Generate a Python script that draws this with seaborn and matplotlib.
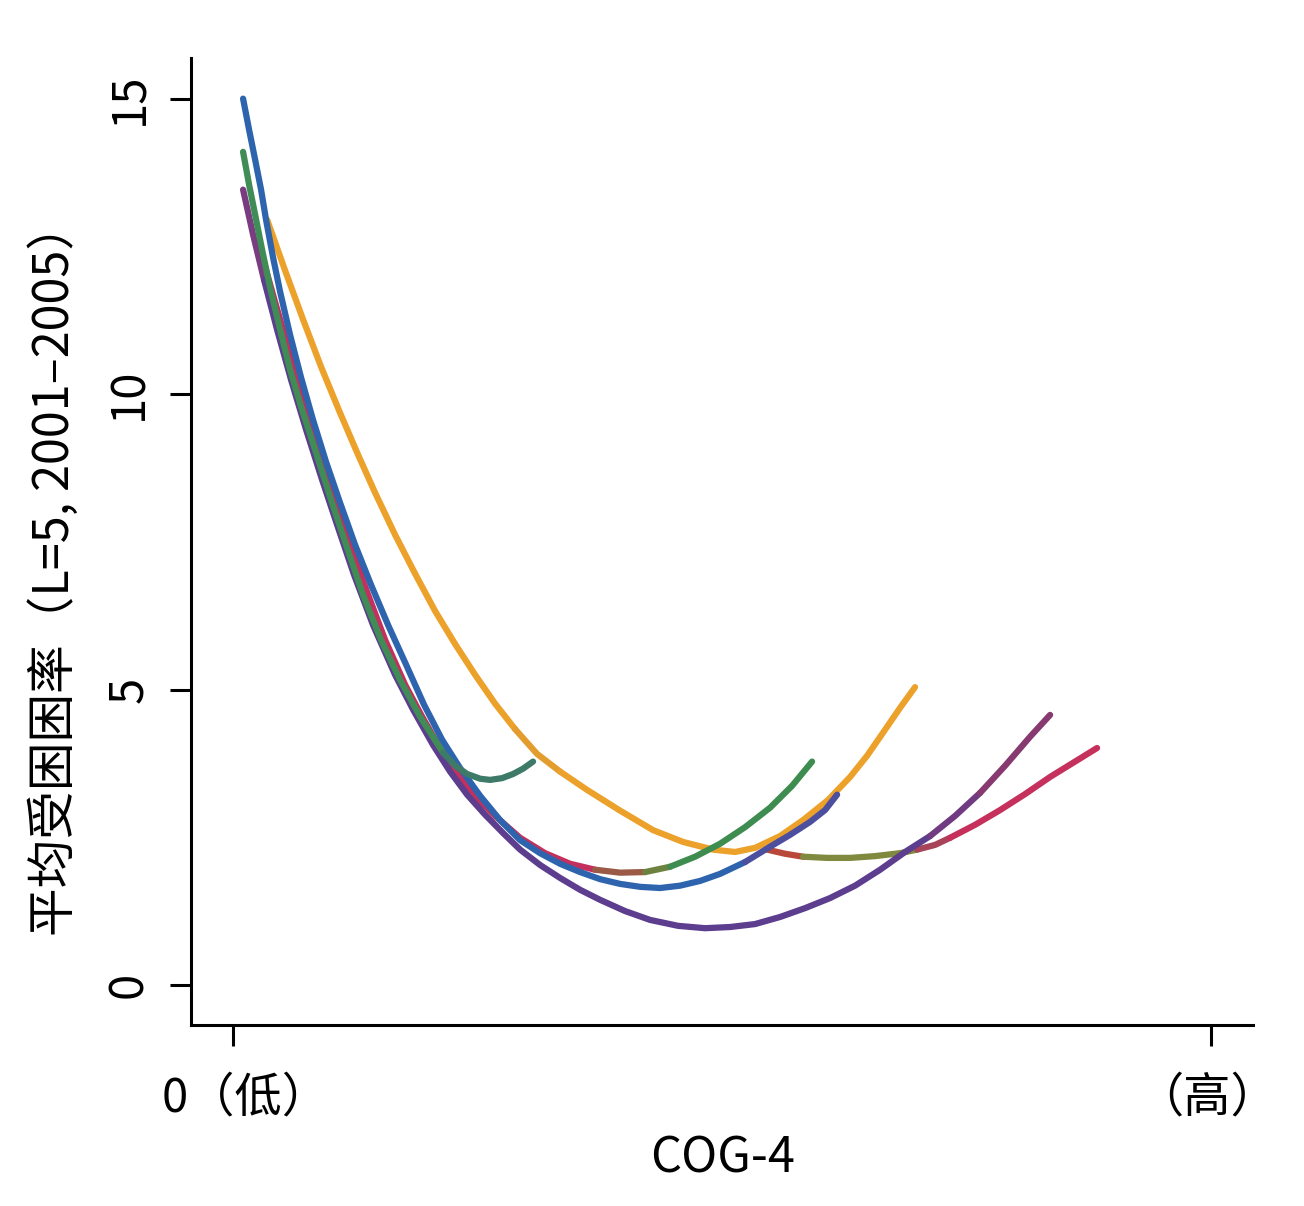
import numpy as np
import pandas as pd
import matplotlib.pyplot as plt
import matplotlib.transforms as mtrans
import seaborn as sns

# 各曲线的读数 (x: COG-4 位置 0~1, y: 平均受困率)
blue_x = [0.0102, 0.0164, 0.0225, 0.0286, 0.0337, 0.0409, 0.0481, 0.0583, 0.0695, 0.0818,
          0.0951, 0.1094, 0.1247, 0.1411, 0.1585, 0.1769, 0.1953, 0.2137, 0.2321, 0.2526,
          0.2730, 0.2935, 0.3139, 0.3344, 0.3548, 0.3753, 0.3957, 0.4162, 0.4366, 0.4571,
          0.4775, 0.4980, 0.5235, 0.5491, 0.5695, 0.5900, 0.6053, 0.6176]
blue_y = [15.00, 14.47, 13.97, 13.46, 12.95, 12.31, 11.73, 11.00, 10.28, 9.56,
          8.85, 8.16, 7.45, 6.77, 6.09, 5.42, 4.74, 4.15, 3.67, 3.20,
          2.79, 2.45, 2.23, 2.05, 1.91, 1.79, 1.71, 1.66, 1.64, 1.68,
          1.76, 1.88, 2.08, 2.34, 2.54, 2.76, 2.96, 3.22]

purple_x = [0.0102, 0.0204, 0.0317, 0.0450, 0.0593, 0.0746, 0.0910, 0.1063, 0.1237, 0.1431,
            0.1656, 0.1840, 0.2045, 0.2219, 0.2393, 0.2577, 0.2761, 0.2935, 0.3139, 0.3344,
            0.3548, 0.3753, 0.4008, 0.4264, 0.4550, 0.4826, 0.5082, 0.5337, 0.5593, 0.5849,
            0.6104, 0.6360, 0.6616, 0.6871, 0.7127, 0.7382, 0.7638, 0.7894, 0.8149, 0.8354]
purple_y = [13.46, 12.70, 11.93, 11.09, 10.24, 9.40, 8.55, 7.79, 6.94, 6.09,
            5.25, 4.66, 4.06, 3.61, 3.22, 2.88, 2.57, 2.29, 2.03, 1.81,
            1.61, 1.44, 1.25, 1.10, 1.00, 0.96, 0.98, 1.03, 1.15, 1.30,
            1.47, 1.68, 1.95, 2.25, 2.52, 2.86, 3.25, 3.71, 4.20, 4.57]

orange_x = [0.0348, 0.0532, 0.0716, 0.0900, 0.1084, 0.1268, 0.1452, 0.1656, 0.1861, 0.2065,
            0.2270, 0.2474, 0.2679, 0.2883, 0.3108, 0.3344, 0.3620, 0.3957, 0.4294, 0.4601,
            0.4908, 0.5133, 0.5337, 0.5593, 0.5828, 0.6084, 0.6309, 0.6483, 0.6646, 0.6820,
            0.6973]
orange_y = [12.95, 12.09, 11.26, 10.46, 9.72, 9.01, 8.33, 7.62, 6.96, 6.33,
            5.77, 5.25, 4.76, 4.33, 3.91, 3.61, 3.30, 2.95, 2.62, 2.42,
            2.29, 2.25, 2.32, 2.52, 2.79, 3.13, 3.52, 3.88, 4.27, 4.69,
            5.04]

green_x = [0.0102, 0.0164, 0.0225, 0.0297, 0.0378, 0.0481, 0.0583, 0.0706, 0.0838, 0.0992,
           0.1155, 0.1329, 0.1513, 0.1708, 0.1912, 0.2147, 0.2270, 0.2393, 0.2526, 0.2628,
           0.2751, 0.2863, 0.2965, 0.3067]
green_y = [14.10, 13.54, 13.04, 12.44, 11.80, 11.09, 10.41, 9.73, 9.06, 8.26,
           7.45, 6.60, 5.84, 5.16, 4.54, 3.93, 3.71, 3.57, 3.49, 3.47,
           3.50, 3.57, 3.66, 3.78]

red_x = [0.0256, 0.0337, 0.0429, 0.0532, 0.0634, 0.0757, 0.0890, 0.1033, 0.1196, 0.1370,
         0.1554, 0.1759, 0.1933, 0.2117, 0.2290, 0.2474, 0.2679, 0.2935, 0.3190, 0.3446,
         0.3701, 0.3957, 0.4213, 0.4468, 0.4724, 0.4980, 0.5235, 0.5491, 0.5716, 0.5920]
red_y = [12.61, 12.10, 11.56, 10.97, 10.38, 9.73, 9.06, 8.30, 7.48, 6.65,
         5.84, 5.08, 4.54, 4.01, 3.59, 3.20, 2.86, 2.49, 2.23, 2.05,
         1.95, 1.90, 1.91, 2.00, 2.17, 2.39, 2.67, 3.00, 3.37, 3.78]

late_x = [0.5460, 0.5644, 0.5828, 0.6074, 0.6309, 0.6564, 0.6820, 0.6994, 0.7178, 0.7331,
          0.7587, 0.7843, 0.8098, 0.8354, 0.8609, 0.8834]
late_y = [2.29, 2.22, 2.17, 2.15, 2.15, 2.18, 2.23, 2.29, 2.37, 2.49,
          2.71, 2.96, 3.23, 3.52, 3.78, 4.01]

y_ticks = [0, 5, 10, 15]
x_ticks = [0, 1]
x_ticklabels = ["0（低）", "（高）"]

# 曲线分段颜色: (起点序号, 终点序号, 颜色)
curves = [
    ("orange", orange_x, orange_y, [(0, 13, "#eca12a"), (13, 15, "#e39c2e"), (15, 30, "#eca12a")]),
    ("late", late_x, late_y, [(0, 2, "#b8493a"), (2, 7, "#7f8a3e"), (7, 9, "#a8445a"), (9, 15, "#c5305c")]),
    ("red", red_x, red_y, [(0, 20, "#c3305d"), (20, 22, "#9a5a45"), (22, 23, "#6e823f"), (23, 29, "#3e8c50")]),
    ("blue", blue_x, blue_y, [(0, 32, "#2d64ad"), (32, 37, "#4b4f9e")]),
    ("purple", purple_x, purple_y, [(0, 2, "#7a3c80"), (2, 34, "#5c3d8e"), (34, 36, "#703b80"), (36, 39, "#863a70")]),
    ("green", green_x, green_y, [(0, 15, "#3f8c57"), (15, 23, "#3d7a68")]),
]

rows = []
pal = {}
for name, xs, ys, segs in curves:
    for k, (a, b, c) in enumerate(segs):
        seg = f"{name}{k}"
        pal[seg] = c
        for i in range(a, b + 1):
            rows.append((xs[i], ys[i], seg))
df = pd.DataFrame(rows, columns=["x", "y", "seg"])

sns.set_style("ticks", {"axes.edgecolor": "black", "xtick.color": "black",
                        "ytick.color": "black", "text.color": "black",
                        "axes.labelcolor": "black"})
plt.rcParams['font.family'] = ['Noto Sans CJK SC', 'DejaVu Sans']

fig = plt.figure(figsize=(13.04, 12.06), dpi=100)
ax = fig.add_axes([0.1465, 0.150, 0.8145, 0.802])

sns.lineplot(data=df, x="x", y="y", hue="seg", palette=pal, hue_order=list(pal.keys()),
             estimator=None, sort=False, legend=False, linewidth=4.5, ax=ax,
             solid_capstyle="round", solid_joinstyle="round")

ax.set_xlim(-0.043, 1.043)
ax.set_ylim(-0.68, 15.69)
ax.set_xticks(x_ticks)
ax.set_xticklabels(x_ticklabels)
ax.set_yticks(y_ticks)
ax.tick_params(axis="both", labelsize=34, width=2.2, length=15, color="black",
               labelcolor="black")
ax.tick_params(axis="x", pad=20)
ax.tick_params(axis="y", pad=12)
for t in ax.get_yticklabels():
    t.set_rotation(90)
    t.set_va("center")
# 横轴两端标签稍作偏移
for t, dx in zip(ax.get_xticklabels(), [9, -3]):
    t.set_transform(t.get_transform() + mtrans.ScaledTranslation(dx / 72, 0, fig.dpi_scale_trans))

ax.set_xlabel("COG-4", fontsize=35)
ax.set_ylabel("平均受困困率（L=5, 2001–2005）", fontsize=35)
ax.xaxis.set_label_coords(0.5, -0.113)
ax.yaxis.set_label_coords(-0.105, 0.472)

for s in ["left", "bottom"]:
    ax.spines[s].set_linewidth(2.2)
sns.despine(ax=ax)

fig.savefig("out.png", dpi=100, facecolor="white")
